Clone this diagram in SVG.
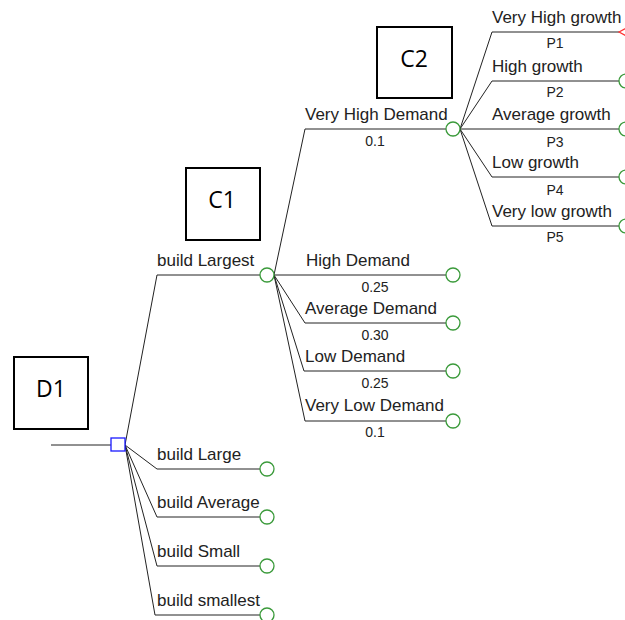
<svg xmlns="http://www.w3.org/2000/svg" width="625" height="620" viewBox="0 0 625 620">
<style>
.ln{stroke:#222;stroke-width:1;fill:none}
.lbl{font-family:"Liberation Sans",Arial,sans-serif;font-size:17px;fill:#222}
.p{font-family:"Liberation Sans",Arial,sans-serif;font-size:14px;fill:#222;text-anchor:middle}
.box{fill:#fff;stroke:#000;stroke-width:2}
.bt{font-family:"Open Sans","Liberation Sans",sans-serif;font-size:23px;fill:#000;text-anchor:middle}
.ch{fill:#fff;stroke:#3a9a3a;stroke-width:1.3}
.dec{fill:#fff;stroke:#1a1aff;stroke-width:1.3}
.term{fill:none;stroke:#ff3030;stroke-width:1.2}
</style>
<rect width="625" height="620" fill="#fff"/>
<g id="connectors">
<line class="ln" x1="51" y1="445" x2="111" y2="445"/>
<polyline class="ln" points="125,445 157,275 260,275"/>
<polyline class="ln" points="125,445 157,469 260,469"/>
<polyline class="ln" points="125,445 157,517 260,517"/>
<polyline class="ln" points="125,445 157,566 260,566"/>
<polyline class="ln" points="125,445 155,615 260,615"/>
<polyline class="ln" points="274,275 305,129 446,129"/>
<line class="ln" x1="274" y1="275" x2="446" y2="275"/>
<polyline class="ln" points="274,275 305,323 446,323"/>
<polyline class="ln" points="274,275 304,371 446,371"/>
<polyline class="ln" points="274,275 305,421 446,421"/>
<polyline class="ln" points="460,129 492,32 619,32"/>
<polyline class="ln" points="460,129 492,81 619,81"/>
<line class="ln" x1="460" y1="129" x2="619" y2="129"/>
<polyline class="ln" points="460,129 492,177 619,177"/>
<polyline class="ln" points="460,129 492,226 619,226"/>
</g>
<g id="D1">
<rect class="box" x="14" y="357" width="74" height="72"/>
<text class="bt" x="51" y="397">D1</text>
<rect class="dec" x="111" y="438" width="14" height="13"/>
</g>
<g id="C1">
<rect class="box" x="186" y="168" width="74" height="72"/>
<text class="bt" x="222" y="208">C1</text>
<circle class="ch" cx="267" cy="275" r="7"/>
</g>
<g id="C2">
<rect class="box" x="377" y="27" width="75" height="71"/>
<text class="bt" x="414" y="67">C2</text>
<circle class="ch" cx="453" cy="129" r="7"/>
</g>
<g id="build-labels">
<text class="lbl" x="157" y="266">build Largest</text>
<text class="lbl" x="157" y="460">build Large</text>
<circle class="ch" cx="267" cy="469" r="7"/>
<text class="lbl" x="157" y="508">build Average</text>
<circle class="ch" cx="267" cy="517" r="7"/>
<text class="lbl" x="157" y="557">build Small</text>
<circle class="ch" cx="267" cy="566" r="7"/>
<text class="lbl" x="157" y="606">build smallest</text>
<circle class="ch" cx="267" cy="615" r="7"/>
</g>
<g id="demand">
<text class="lbl" x="305" y="120">Very High Demand</text>
<text class="p" x="375" y="146">0.1</text>
<text class="lbl" x="306" y="266">High Demand</text>
<text class="p" x="375" y="292">0.25</text>
<circle class="ch" cx="453" cy="275" r="7"/>
<text class="lbl" x="305" y="314">Average Demand</text>
<text class="p" x="375" y="340">0.30</text>
<circle class="ch" cx="453" cy="323" r="7"/>
<text class="lbl" x="305" y="362">Low Demand</text>
<text class="p" x="375" y="388">0.25</text>
<circle class="ch" cx="453" cy="371" r="7"/>
<text class="lbl" x="305" y="411">Very Low Demand</text>
<text class="p" x="375" y="437">0.1</text>
<circle class="ch" cx="453" cy="421" r="7"/>
</g>
<g id="growth">
<text class="lbl" x="492" y="23">Very High growth</text>
<text class="p" x="555" y="48">P1</text>
<polygon class="term" points="619,32 630,26 630,38"/>
<text class="lbl" x="492" y="72">High growth</text>
<text class="p" x="555" y="97">P2</text>
<circle class="ch" cx="626" cy="81" r="7"/>
<text class="lbl" x="492" y="120">Average growth</text>
<text class="p" x="555" y="147">P3</text>
<circle class="ch" cx="626" cy="129" r="7"/>
<text class="lbl" x="492" y="168">Low growth</text>
<text class="p" x="555" y="195">P4</text>
<circle class="ch" cx="626" cy="177" r="7"/>
<text class="lbl" x="492" y="217">Very low growth</text>
<text class="p" x="555" y="242">P5</text>
<circle class="ch" cx="626" cy="226" r="7"/>
</g>
</svg>
